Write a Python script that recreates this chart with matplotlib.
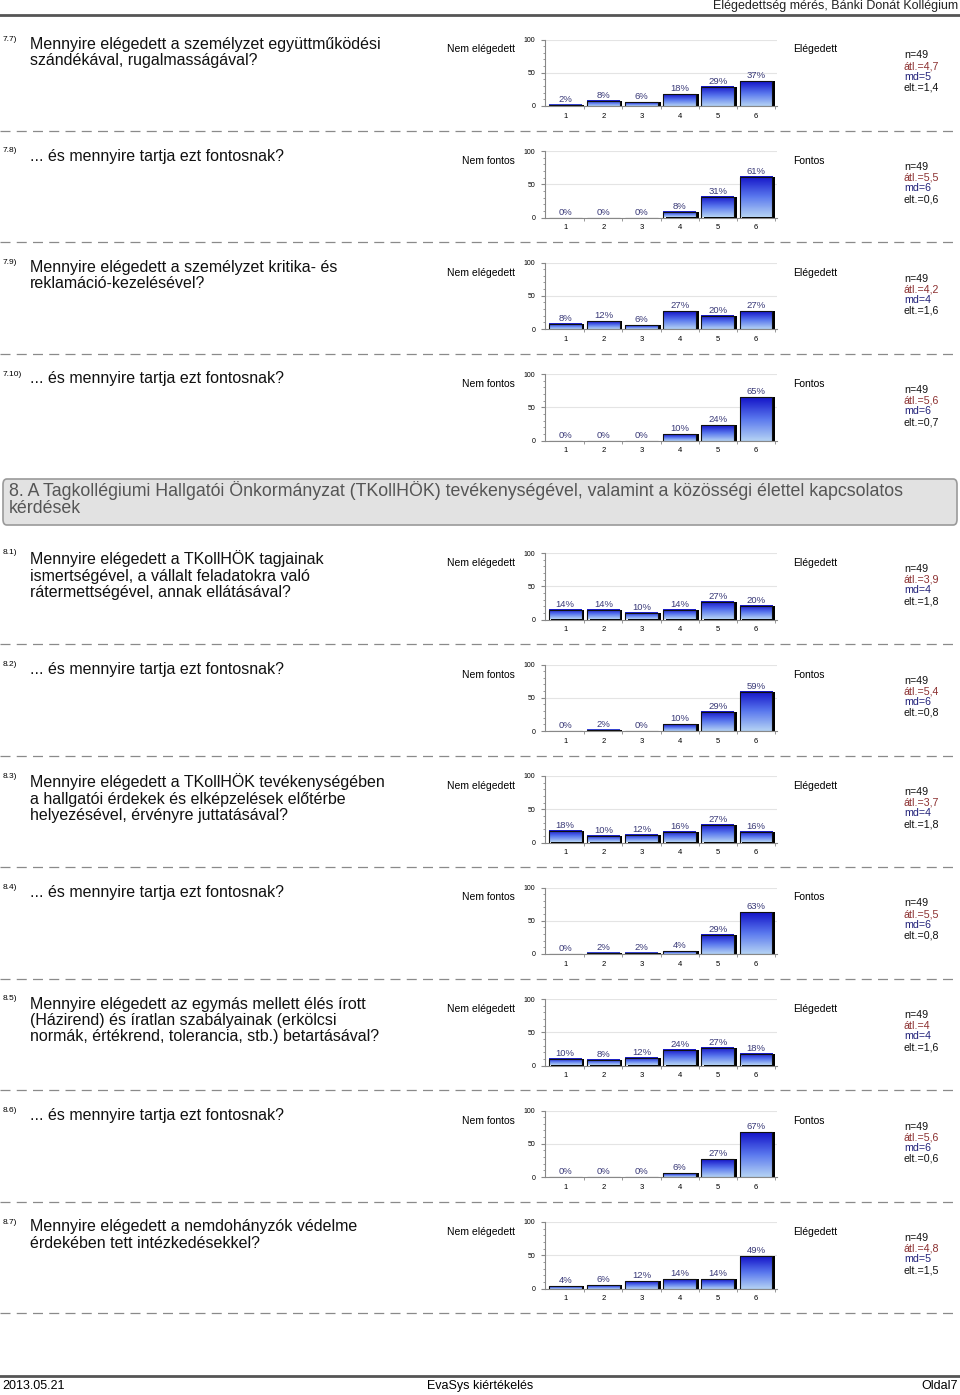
import numpy as np
import matplotlib
matplotlib.use("Agg")
import matplotlib.pyplot as plt
from matplotlib.patches import FancyBboxPatch
from matplotlib.colors import LinearSegmentedColormap

plt.rcParams['font.family'] = ['Liberation Sans', 'DejaVu Sans']

W, H = 960, 1395

# data
nums = ["7.7)", "7.8)", "7.9)", "7.10)", "8.1)", "8.2)", "8.3)", "8.4)", "8.5)", "8.6)", "8.7)"]
questions = [
    "Mennyire elégedett a személyzet együttműködési\nszándékával, rugalmasságával?",
    "... és mennyire tartja ezt fontosnak?",
    "Mennyire elégedett a személyzet kritika- és\nreklamáció-kezelésével?",
    "... és mennyire tartja ezt fontosnak?",
    "Mennyire elégedett a TKollHÖK tagjainak\nismertségével, a vállalt feladatokra való\nrátermettségével, annak ellátásával?",
    "... és mennyire tartja ezt fontosnak?",
    "Mennyire elégedett a TKollHÖK tevékenységében\na hallgatói érdekek és elképzelések előtérbe\nhelyezésével, érvényre juttatásával?",
    "... és mennyire tartja ezt fontosnak?",
    "Mennyire elégedett az egymás mellett élés írott\n(Házirend) és íratlan szabályainak (erkölcsi\nnormák, értékrend, tolerancia, stb.) betartásával?",
    "... és mennyire tartja ezt fontosnak?",
    "Mennyire elégedett a nemdohányzók védelme\nérdekében tett intézkedésekkel?",
]
kinds = ["e", "f", "e", "f", "e", "f", "e", "f", "e", "f", "e"]
values = [
    [2, 8, 6, 18, 29, 37],
    [0, 0, 0, 8, 31, 61],
    [8, 12, 6, 27, 20, 27],
    [0, 0, 0, 10, 24, 65],
    [14, 14, 10, 14, 27, 20],
    [0, 2, 0, 10, 29, 59],
    [18, 10, 12, 16, 27, 16],
    [0, 2, 2, 4, 29, 63],
    [10, 8, 12, 24, 27, 18],
    [0, 0, 0, 6, 27, 67],
    [4, 6, 12, 14, 14, 49],
]
n_vals = [49] * 11
atl = ["4,7", "5,5", "4,2", "5,6", "3,9", "5,4", "3,7", "5,5", "4", "5,6", "4,8"]
md = ["5", "6", "4", "6", "4", "6", "4", "6", "4", "6", "5"]
elt = ["1,4", "0,6", "1,6", "0,7", "1,8", "0,8", "1,8", "0,8", "1,6", "0,6", "1,5"]
categories = ["1", "2", "3", "4", "5", "6"]

block_tops = [39.5, 151, 262.5, 374, 553, 664.5, 776, 887.5, 999, 1110.5, 1222]

fig = plt.figure(figsize=(W / 100, H / 100), dpi=100)


def fx(x):
    return x / W


def fy(y):
    return 1 - y / H


def ptext(x, y, s, **kw):
    kw.setdefault("va", "center")
    fig.text(fx(x), fy(y), s, **kw)


def hline(y, x0, x1, **kw):
    fig.add_artist(plt.Line2D([fx(x0), fx(x1)], [fy(y), fy(y)], **kw))


# header / footer
ptext(958, 6.5, "Elégedettség mérés, Bánki Donát Kollégium", ha="right", fontsize=9, color="#222222")
hline(15, 0, 960, color="#555555", lw=2)
hline(1376, 0, 960, color="#555555", lw=2)
ptext(2, 1386, "2013.05.21", ha="left", fontsize=9)
ptext(480, 1386, "EvaSys kiértékelés", ha="center", fontsize=9)
ptext(958, 1386, "Oldal7", ha="right", fontsize=9)

# section box
box = FancyBboxPatch((fx(3), fy(525)), fx(954), fy(479) - fy(525),
                     boxstyle="round,pad=0,rounding_size=0.004",
                     transform=fig.transFigure, facecolor="#e2e2e2",
                     edgecolor="#9a9a9a", lw=1.2)
fig.add_artist(box)
ptext(9, 491, "8. A Tagkollégiumi Hallgatói Önkormányzat (TKollHÖK) tevékenységével, valamint a közösségi élettel kapcsolatos",
      ha="left", fontsize=12.75, color="#555555")
ptext(9, 509, "kérdések", ha="left", fontsize=12.75, color="#555555")

cmap = LinearSegmentedColormap.from_list("bar", ["#b4d2f4", "#5a78ee", "#1414c8"])
grad = np.linspace(0, 1, 64).reshape(-1, 1)

for i in range(len(values)):
    top = block_tops[i]
    ptext(3, top, nums[i], ha="left", fontsize=6)
    fig.text(fx(30), fy(top - 2.5), questions[i], ha="left", va="top",
             fontsize=11.5, linespacing=1.1, color="#111111")
    left_lbl = "Nem elégedett" if kinds[i] == "e" else "Nem fontos"
    right_lbl = "Elégedett" if kinds[i] == "e" else "Fontos"
    ptext(515, top + 10, left_lbl, ha="right", fontsize=7.5)
    ptext(793, top + 10, right_lbl, ha="left", fontsize=7.5)
    stats = [("n=%d" % n_vals[i], "#111111"), ("átl.=" + atl[i], "#8b2f2f"),
             ("md=" + md[i], "#22227a"), ("elt.=" + elt[i], "#111111")]
    for k, (s, c) in enumerate(stats):
        ptext(904, top + 16 + k * 10.7, s, ha="left", fontsize=7.7, color=c)

    # dashed separator under each block (not before the section box)
    if i != 3:
        hline(top + 91, 0, 956, color="#8a8a8a", lw=0.9, ls=(0, (8, 5)))

    ax = fig.add_axes([fx(545), fy(top + 66.5), fx(777) - fx(545), fy(top) - fy(top + 66.5)])
    ax.patch.set_alpha(0)
    for s in ["top", "right"]:
        ax.spines[s].set_visible(False)
    for s in ["left", "bottom"]:
        ax.spines[s].set_color("#888888")
        ax.spines[s].set_linewidth(0.8)
    ax.axhline(50, color="#e4e4e4", lw=0.8, zorder=0)
    ax.axhline(100, color="#e4e4e4", lw=0.8, zorder=0)
    ax.set_yticks([0, 50, 100])
    ax.set_yticklabels(["0", "50", "100"], fontsize=5)
    ax.set_yticks(np.arange(0, 101, 10), minor=True)
    ax.tick_params(axis="y", which="major", length=3, pad=4, color="#888888")
    ax.tick_params(axis="y", which="minor", length=1.5, color="#888888")
    ax.set_xticks(np.arange(6))
    ax.set_xticklabels(categories, fontsize=5.5)
    ax.tick_params(axis="x", length=0, pad=5)
    ax.set_xticks(np.arange(6) + 0.5, minor=True)
    ax.tick_params(axis="x", which="minor", length=2, color="#888888")

    vals = values[i]
    bw = 0.86
    x = np.arange(6)
    # shadow
    ax.bar(x + 0.07, vals, bw, bottom=0, color="black", zorder=2, clip_on=False)
    bars = ax.bar(x, vals, bw, color="none", edgecolor="#101010", lw=0.8, zorder=4)
    for b, v in zip(bars, vals):
        if v > 0:
            ax.imshow(grad, cmap=cmap, aspect="auto", zorder=3,
                      extent=[b.get_x(), b.get_x() + bw, 0, v], origin="lower")
        ax.text(b.get_x() + bw / 2, v + 1.5, "%d%%" % v, ha="center", va="bottom",
                fontsize=6.8, color="#3a3a78", zorder=5)
    ax.set_xlim(-0.53, 5.55)
    ax.set_ylim(0, 100)

fig.savefig("out.png", dpi=100)
